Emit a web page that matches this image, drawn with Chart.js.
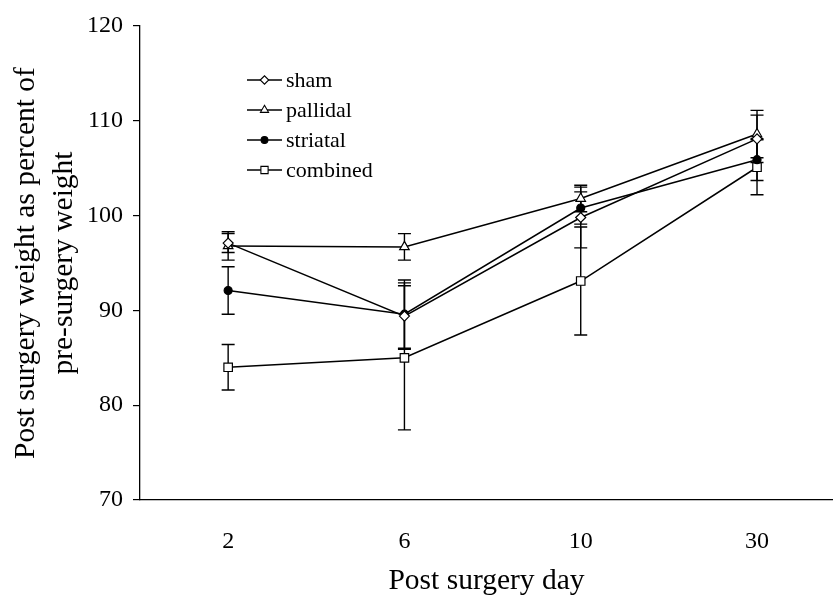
<!DOCTYPE html>
<html>
<head>
<meta charset="utf-8">
<script src="https://cdn.jsdelivr.net/npm/chart.js@4.4.1/dist/chart.umd.min.js"></script>
<style>
  html, body { margin: 0; padding: 0; background: #fff; }
  #wrap { width: 833px; height: 599px; position: relative; }
</style>
</head>
<body>
<div id="wrap"><canvas id="c" width="833" height="599"></canvas></div>
<script>
// Post surgery day (categories)
const days = ['2', '6', '10', '30'];

// Mean weight as percent of pre-surgery weight, with error bar half-lengths
const sham        = [97.1, 89.4, 99.8, 108.1];
const shamErr     = [1.0, 3.5, 3.2, 2.5];
const pallidal    = [96.8, 96.7, 101.8, 108.6];
const pallidalErr = [1.5, 1.4, 1.4, 2.5];
const striatal    = [92.1, 89.6, 100.8, 105.9];
const striatalErr = [2.5, 3.6, 1.7, 2.2];
const combined    = [84.0, 85.0, 93.1, 105.1];
const combinedErr = [2.4, 7.6, 5.7, 2.9];

const yTicks = [70, 80, 90, 100, 110, 120];

const SERIF = '"Liberation Serif", "Times New Roman", serif';

function pts(values) {
  return values.map((v, i) => ({ x: i, y: v }));
}

function series(label, values, errs, style, radius, fill) {
  return {
    label,
    data: pts(values),
    errors: errs,
    borderColor: '#000',
    borderWidth: 1.5,
    tension: 0,
    pointStyle: style,
    pointRadius: radius,
    pointHoverRadius: radius,
    pointBorderWidth: 1.2,
    pointBorderColor: '#000',
    pointBackgroundColor: fill
  };
}

// Vertical error bars with caps, drawn under the markers
const errorBars = {
  id: 'errorBars',
  beforeDatasetsDraw(chart) {
    const { ctx } = chart;
    const y = chart.scales.y;
    ctx.save();
    ctx.strokeStyle = '#000';
    ctx.lineWidth = 1.4;
    chart.data.datasets.forEach((ds, di) => {
      const meta = chart.getDatasetMeta(di);
      meta.data.forEach((pt, i) => {
        const v = ds.data[i].y, e = ds.errors[i];
        const top = y.getPixelForValue(v + e);
        const bot = y.getPixelForValue(v - e);
        const cap = 6.5;
        ctx.beginPath();
        ctx.moveTo(pt.x, top); ctx.lineTo(pt.x, bot);
        ctx.moveTo(pt.x - cap, top); ctx.lineTo(pt.x + cap, top);
        ctx.moveTo(pt.x - cap, bot); ctx.lineTo(pt.x + cap, bot);
        ctx.stroke();
      });
    });
    ctx.restore();
  }
};

// Legend inside the plot area: line sample with marker, then label
const innerLegend = {
  id: 'innerLegend',
  afterDraw(chart) {
    const { ctx, chartArea } = chart;
    const x0 = chartArea.left + 107;
    const x1 = x0 + 35;
    const y0 = chartArea.top + 54;
    const step = 30;
    ctx.save();
    chart.data.datasets.forEach((ds, i) => {
      const yy = y0 + i * step;
      ctx.strokeStyle = '#000';
      ctx.lineWidth = 1.3;
      ctx.beginPath();
      ctx.moveTo(x0, yy); ctx.lineTo(x1, yy);
      ctx.stroke();
      ctx.fillStyle = ds.pointBackgroundColor;
      ctx.lineWidth = 1.1;
      Chart.helpers.drawPoint(ctx, {
        pointStyle: ds.pointStyle,
        radius: ds.pointRadius * 0.85,
        borderWidth: 1.1,
        rotation: 0
      }, (x0 + x1) / 2, yy);
      ctx.fillStyle = '#000';
      ctx.font = '22px ' + SERIF;
      ctx.textAlign = 'left';
      ctx.textBaseline = 'middle';
      ctx.fillText(ds.label, x1 + 4, yy + 1);
    });
    ctx.restore();
  }
};

new Chart(document.getElementById('c'), {
  type: 'line',
  data: {
    datasets: [
      series('sham', sham, shamErr, 'rectRot', 5, '#fff'),
      series('pallidal', pallidal, pallidalErr, 'triangle', 5.5, '#fff'),
      series('striatal', striatal, striatalErr, 'circle', 4, '#000'),
      series('combined', combined, combinedErr, 'rect', 6, '#fff')
    ]
  },
  options: {
    responsive: false,
    animation: false,
    devicePixelRatio: 1,
    layout: { autoPadding: false, padding: { top: 26, right: 0, left: 0, bottom: 0 } },
    plugins: {
      legend: { display: false },
      tooltip: { enabled: false }
    },
    scales: {
      x: {
        type: 'linear',
        min: -0.5,
        max: 3.431,
        afterBuildTicks: (s) => { s.ticks = days.map((d, i) => ({ value: i })); },
        afterFit: (s) => { s.height = 99; s.paddingLeft = 0; s.paddingRight = 0; },
        ticks: {
          autoSkip: false,
          color: '#000',
          font: { family: SERIF, size: 24 },
          padding: 19,
          maxRotation: 0,
          callback: (v) => days[v]
        },
        grid: { display: false },
        border: { display: true, color: '#000', width: 1.3 },
        title: {
          display: true,
          text: 'Post surgery day',
          color: '#000',
          font: { family: SERIF, size: 29.5 },
          padding: { top: 0, bottom: 0 }
        }
      },
      y: {
        min: 70,
        max: 120,
        afterBuildTicks: (s) => { s.ticks = yTicks.map(v => ({ value: v })); },
        afterFit: (s) => { s.width = 140; },
        ticks: {
          color: '#000',
          font: { family: SERIF, size: 24 },
          padding: 10
        },
        grid: {
          drawOnChartArea: false,
          drawTicks: true,
          tickLength: 7,
          color: '#000',
          lineWidth: 1.2
        },
        border: { display: true, color: '#000', width: 1.3 },
        title: {
          display: true,
          text: ['Post surgery weight as percent of', 'pre-surgery weight'],
          color: '#000',
          font: { family: SERIF, size: 29.5, lineHeight: 1.29 },
          padding: { top: 7, bottom: 0 }
        }
      }
    }
  },
  plugins: [errorBars, innerLegend]
});
</script>
</body>
</html>
